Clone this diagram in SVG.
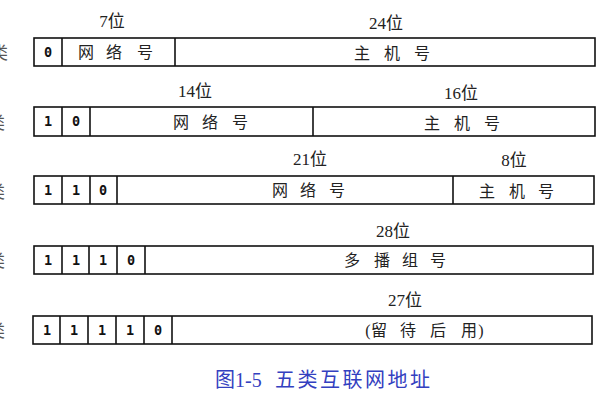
<svg xmlns="http://www.w3.org/2000/svg" width="600" height="400" viewBox="0 0 600 400">
<style>
.box{fill:#fff;stroke:#111;stroke-width:1.6}
.ln{stroke:#111;stroke-width:1.6}
.bit{font-family:"DejaVu Sans Mono","Liberation Mono",monospace;font-weight:bold;font-size:13.5px;fill:#111;text-anchor:middle}
.cn{font-family:"Liberation Serif","Noto Sans CJK SC",serif;font-size:16px;fill:#222;text-anchor:middle}
.num{font-family:"Liberation Serif","Noto Sans CJK SC",serif;font-size:17px;fill:#222;text-anchor:middle}
.side{font-family:"Liberation Serif","Noto Sans CJK SC",serif;font-size:17px;fill:#555}
.cap{font-family:"Liberation Serif","Noto Sans CJK SC",serif;font-size:20px;fill:#3340c0}
</style>
<rect width="600" height="400" fill="#fff"/>

<g id="classA">
<text class="side" x="-9" y="59">类</text>
<text class="num" x="112" y="27">7位</text>
<text class="num" x="386" y="29">24位</text>
<rect class="box" x="34" y="38" width="561" height="28"/>
<line class="ln" x1="62" y1="38" x2="62" y2="66"/>
<line class="ln" x1="175" y1="38" x2="175" y2="66"/>
<text class="bit" x="48" y="57">0</text>
<text class="cn" x="86 114 145" y="58">网络号</text>
<text class="cn" x="362 392 422" y="59">主机号</text>
</g>

<g id="classB">
<text class="side" x="-12" y="129">类</text>
<text class="num" x="195" y="97">14位</text>
<text class="num" x="461" y="99">16位</text>
<rect class="box" x="34" y="107" width="561" height="29"/>
<line class="ln" x1="62" y1="107" x2="62" y2="136"/>
<line class="ln" x1="90" y1="107" x2="90" y2="136"/>
<line class="ln" x1="313" y1="107" x2="313" y2="136"/>
<text class="bit" x="48" y="126">1</text>
<text class="bit" x="76" y="126">0</text>
<text class="cn" x="181 210 240" y="128">网络号</text>
<text class="cn" x="432 462 492" y="129">主机号</text>
</g>

<g id="classC">
<text class="side" x="-12" y="198">类</text>
<text class="num" x="310" y="165">21位</text>
<text class="num" x="514" y="166">8位</text>
<rect class="box" x="34" y="176" width="560" height="28"/>
<line class="ln" x1="62" y1="176" x2="62" y2="204"/>
<line class="ln" x1="90" y1="176" x2="90" y2="204"/>
<line class="ln" x1="117" y1="176" x2="117" y2="204"/>
<line class="ln" x1="453" y1="176" x2="453" y2="204"/>
<text class="bit" x="48" y="195">1</text>
<text class="bit" x="76" y="195">1</text>
<text class="bit" x="103" y="195">0</text>
<text class="cn" x="280 308 337" y="196">网络号</text>
<text class="cn" x="487 517 546" y="197">主机号</text>
</g>

<g id="classD">
<text class="side" x="-12" y="267">类</text>
<text class="num" x="393" y="237">28位</text>
<rect class="box" x="34" y="246" width="559" height="28"/>
<line class="ln" x1="62" y1="246" x2="62" y2="274"/>
<line class="ln" x1="89" y1="246" x2="89" y2="274"/>
<line class="ln" x1="117" y1="246" x2="117" y2="274"/>
<line class="ln" x1="145" y1="246" x2="145" y2="274"/>
<text class="bit" x="48" y="265">1</text>
<text class="bit" x="76" y="265">1</text>
<text class="bit" x="103" y="265">1</text>
<text class="bit" x="131" y="265">0</text>
<text class="cn" x="352 382 410 438" y="266">多播组号</text>
</g>

<g id="classE">
<text class="side" x="-12" y="337">类</text>
<text class="num" x="405" y="306">27位</text>
<rect class="box" x="33" y="316" width="559" height="28"/>
<line class="ln" x1="60" y1="316" x2="60" y2="344"/>
<line class="ln" x1="88" y1="316" x2="88" y2="344"/>
<line class="ln" x1="116" y1="316" x2="116" y2="344"/>
<line class="ln" x1="144" y1="316" x2="144" y2="344"/>
<line class="ln" x1="172" y1="316" x2="172" y2="344"/>
<text class="bit" x="47" y="335">1</text>
<text class="bit" x="74" y="335">1</text>
<text class="bit" x="102" y="335">1</text>
<text class="bit" x="130" y="335">1</text>
<text class="bit" x="158" y="335">0</text>
<text class="cn" x="368 379 408 438 469 481" y="336">(留待后用)</text>
</g>

<g id="caption">
<text class="cap" x="215" y="387">图1-5</text>
<text class="cap" x="275" y="387" letter-spacing="2.5">五类互联网地址</text>
</g>
</svg>
